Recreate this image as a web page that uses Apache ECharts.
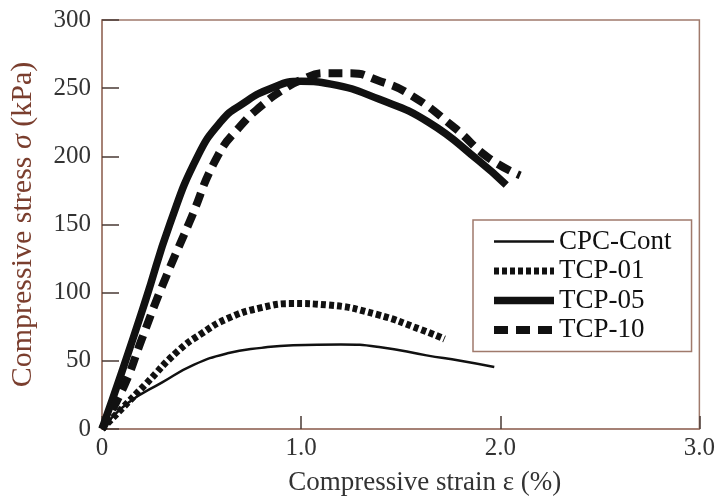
<!DOCTYPE html>
<html>
<head>
<meta charset="utf-8">
<script src="https://cdn.jsdelivr.net/npm/echarts@6/dist/echarts.min.js"></script>
<style>html,body{margin:0;padding:0;background:#fff}#c{width:718px;height:501px}</style>
</head>
<body>
<div id="c"></div>
<script>
const seriesNames = ['CPC-Cont', 'TCP-01', 'TCP-05', 'TCP-10'];
const xTicks = [0, 1, 2, 3];
const yTicks = [0, 50, 100, 150, 200, 250, 300];

const strainCPC = [0, 0.13, 0.30, 0.46, 0.63, 0.80, 0.96, 1.20, 1.40, 1.63, 1.80, 1.97];
const stressCPC = [0, 19, 34, 47, 55.5, 59.5, 61.5, 62, 60, 54, 50, 45.5];

const strain01 = [0, 0.10, 0.22, 0.38, 0.50, 0.63, 0.80, 0.96, 1.13, 1.38, 1.60, 1.72];
const stress01 = [0, 15, 33, 57, 70, 81, 89, 92, 91, 84, 73, 66];

const strain05 = [0, 0.10, 0.22, 0.34, 0.48, 0.60, 0.70, 0.85, 1.00, 1.15, 1.39, 1.64, 1.89, 2.03];
const stress05 = [0, 42, 95, 150, 200, 226, 238, 250, 255, 253, 242, 225, 197, 179];

const strain10 = [0, 0.115, 0.20, 0.30, 0.44, 0.58, 0.70, 0.80, 0.90, 1.00, 1.12, 1.25, 1.38, 1.55, 1.77, 1.94, 2.10];
const stress10 = [0, 33, 66, 104, 152, 200, 223, 237, 248, 256, 261, 261, 256, 245, 221, 199, 186];

function pairs(xs, ys) { return xs.map((x, i) => [x, ys[i]]); }

const axisCol = '#a07a6c';
const serif = '"Liberation Serif", "DejaVu Serif", serif';

const styles = [
  { width: 2.5, type: 'solid' },
  { width: 7, type: [5, 3] },
  { width: 7.5, type: 'solid' },
  { width: 8, type: [14, 8] }
];
const datas = [pairs(strainCPC, stressCPC), pairs(strain01, stress01), pairs(strain05, stress05), pairs(strain10, stress10)];

const chart = echarts.init(document.getElementById('c'));
chart.setOption({
  backgroundColor: '#fff',
  animation: false,
  grid: { left: 102, right: 15, top: 20, bottom: 66, show: true, borderColor: axisCol, borderWidth: 1.5, backgroundColor: 'transparent' },
  xAxis: {
    type: 'value', min: xTicks[0], max: xTicks[xTicks.length - 1], interval: 1,
    name: 'Compressive strain ε (%)', nameLocation: 'middle', nameGap: 40,
    nameTextStyle: { fontFamily: serif, fontSize: 27, color: '#333', padding: [0, 0, 0, 48] },
    axisLine: { lineStyle: { color: axisCol, width: 1.5 } },
    axisTick: { inside: true, length: 13, lineStyle: { color: '#4a3a34', width: 1.5 } },
    axisLabel: { fontFamily: serif, fontSize: 25, color: '#333', margin: 7,
      formatter: v => v === 0 ? '0' : v.toFixed(1) },
    splitLine: { show: false }
  },
  yAxis: {
    type: 'value', min: yTicks[0], max: yTicks[yTicks.length - 1], interval: 50,
    name: '{a|Compressive stress }{b|σ}{a| (kPa)}', nameLocation: 'middle', nameGap: 64,
    nameTextStyle: { rich: {
      a: { fontFamily: serif, fontSize: 30, color: '#7a3e2e' },
      b: { fontFamily: serif, fontSize: 30, color: '#7a3e2e', fontStyle: 'italic' } } },
    axisLine: { lineStyle: { color: axisCol, width: 1.5 } },
    axisTick: { inside: true, length: 17, lineStyle: { color: '#4a3a34', width: 1.5 } },
    axisLabel: { fontFamily: serif, fontSize: 25, color: '#333', margin: 11 },
    splitLine: { show: false }
  },
  legend: {
    orient: 'vertical', left: 473, top: 220,
    padding: [8, 20, 8, 17],
    borderColor: axisCol, borderWidth: 1.5, backgroundColor: '#fff',
    itemWidth: 60, itemHeight: 14, itemGap: 2.5,
    textStyle: { fontFamily: serif, fontSize: 27, color: '#111' },
    data: seriesNames.map((n, i) => ({ name: n, itemStyle: { opacity: 0 }, lineStyle: { color: '#111', width: styles[i].width, type: styles[i].type } }))
  },
  series: seriesNames.map((n, i) => ({
    name: n, type: 'line', data: datas[i], smooth: 0.5, symbol: 'none', clip: true,
    lineStyle: { color: '#111', width: styles[i].width, type: styles[i].type, cap: 'butt', join: 'round' },
    itemStyle: { color: '#111' }
  }))
});
</script>
</body>
</html>
